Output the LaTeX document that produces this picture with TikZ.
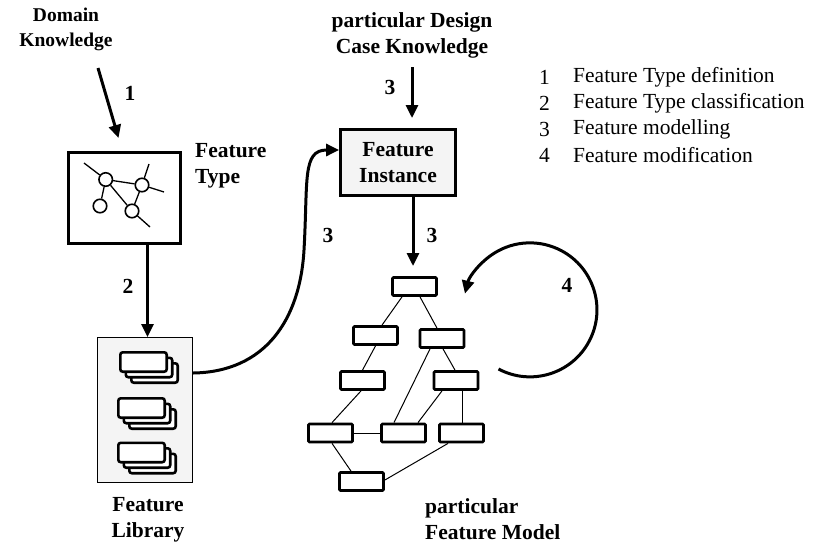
\documentclass[tikz,border=0pt]{standalone}
\usepackage{fontspec}
\setmainfont{Liberation Serif}
\usetikzlibrary{arrows.meta,calc}
\begin{document}
\begin{tikzpicture}[x=1pt,y=-1pt,
 lbl/.style={font=\fontsize{21.5}{26}\selectfont\bfseries, align=center, inner sep=0pt},
 num/.style={font=\fontsize{21.5}{26}\selectfont\bfseries, inner sep=0pt},
 leg/.style={font=\fontsize{21.5}{26}\selectfont, inner sep=0pt, anchor=west},
 arr/.style={line width=3pt, -{Triangle[length=13pt,width=12pt]}},
 mnode/.style={draw, line width=2.8pt, fill=white, minimum width=44pt, minimum height=18pt, inner sep=0pt, rounded corners=1pt},
 medge/.style={line width=1pt},
 stk/.style={draw, line width=2.6pt, fill=white, rounded corners=2.5pt, minimum width=46.4pt, minimum height=19.4pt, inner sep=0pt},
 circ/.style={draw, circle, line width=1.6pt, minimum size=13.5pt, inner sep=0pt},
 gline/.style={line width=1.3pt},
 bigbox/.style={draw, line width=2.8pt, inner sep=0pt}
]
\path[use as bounding box] (0,0) rectangle (813,544);

% ---------- texts ----------
\node[lbl, font=\fontsize{19.5}{25.5}\selectfont\bfseries] (dk) at (66,29.5) {Domain\\Knowledge};
\node[lbl] (cdk) at (412,35) {particular Design\\Case Knowledge};
\node[lbl, align=left, anchor=west] (ftl) at (195,165.5) {Feature\\Type};
\node[lbl] (fll) at (148,519.5) {Feature\\Library};
\node[lbl, align=left, anchor=west] (fml) at (425,519.5) {particular\\Feature Model};

% ---------- legend ----------
\node[leg] (n1) at (539,77) {1};
\node[leg] (t1) at (573,77) {Feature Type definition};
\node[leg] (n2) at (539,103) {2};
\node[leg] (t2) at (573,103) {Feature Type classification};
\node[leg] (n3) at (539,129) {3};
\node[leg] (t3) at (573,129) {Feature modelling};
\node[leg] (n4) at (539,155) {4};
\node[leg] (t4) at (573,155) {Feature modification};

% ---------- feature type box ----------
\node[bigbox, minimum width=112pt, minimum height=91pt] (ft) at (124.5,198) {};
\node[circ] (c1) at (105.7,179.5) {};
\node[circ] (c2) at (142,185) {};
\node[circ] (c3) at (100,206) {};
\node[circ] (c4) at (132,211) {};
\coordinate (g1) at (84,163);
\coordinate (g2) at (164,192);
\coordinate (g3) at (149,164);
\coordinate (g4) at (150,227);
\draw[gline] (g1) -- (c1);
\draw[gline] (c1) -- (c2);
\draw[gline] (c2) -- (g2);
\draw[gline] (c2) -- (g3);
\draw[gline] (c1) -- (c3);
\draw[gline] (c1) -- (c4);
\draw[gline] (c4) -- (c2);
\draw[gline] (c4) -- (g4);

% ---------- feature library ----------
\node[draw, line width=0.9pt, fill=gray!9, minimum width=95pt, minimum height=145pt, inner sep=0pt] (lib) at (145,410) {};
\foreach \i/\x/\y in {1/143.5/362, 2/141.5/408, 3/141.5/452.5}{
  \node[stk] (s\i c) at (\x+11,\y+11) {};
  \node[stk] (s\i b) at (\x+5.5,\y+5.5) {};
  \node[stk] (s\i a) at (\x,\y) {};
}

% ---------- feature instance ----------
\node[bigbox, fill=gray!9, minimum width=115pt, minimum height=66pt, lbl, draw, line width=2.8pt] (fi) at (398,162.5) {Feature\\Instance};

% ---------- feature model ----------
\node[mnode] (m1) at (414.5,286.5) {};
\node[mnode] (m2) at (375.5,335.5) {};
\node[mnode] (m3) at (442,338.5) {};
\node[mnode] (m4) at (362.5,380.5) {};
\node[mnode] (m5) at (456,380.5) {};
\node[mnode] (m6) at (330.5,433) {};
\node[mnode] (m7) at (403.5,433) {};
\node[mnode] (m8) at (461.5,433) {};
\node[mnode] (m9) at (361.5,481.5) {};
\draw[medge] ([xshift=-12.5pt]m1.south) -- ([xshift=6.5pt]m2.north);
\draw[medge] ([xshift=5.5pt]m1.south) -- ([xshift=-5pt]m3.north);
\draw[medge] (m2.south) -- (m4.north);
\draw[medge] ([xshift=-12pt]m3.south) -- ([xshift=-9.5pt]m7.north);
\draw[medge] ([xshift=1pt]m3.south) -- ([xshift=-1pt]m5.north);
\draw[medge] ([xshift=-1.5pt]m4.south) -- ([xshift=1.5pt]m6.north);
\draw[medge] ([xshift=-14pt]m5.south) -- ([xshift=14.5pt]m7.north);
\draw[medge] ([xshift=6pt]m5.south) -- ([xshift=0.5pt]m8.north);
\draw[medge] (m6.east) -- (m7.west);
\draw[medge] ([xshift=1.5pt]m6.south) -- ([xshift=-10.5pt]m9.north);
\draw[medge] ([xshift=-13.5pt]m8.south) -- ([yshift=1.5pt]m9.east);

% ---------- arrows ----------
\coordinate (a1s) at (98,68);
\coordinate (a1e) at (118.5,138);
\draw[arr] (a1s) -- (a1e);
\node[num] (l1) at (130,93) {1};

\draw[arr] (ft.south -| 147.5,0) -- (lib.north -| 147.5,0);
\node[num] (l2) at (128,286) {2};

\coordinate (a3s) at (412,67);
\coordinate (a3e) at (412,118);
\draw[arr] (a3s) -- (a3e);
\node[num] (l3a) at (390,87) {3};

\coordinate (a4e) at (413,266);
\draw[arr] (fi.south -| a4e) -- (a4e);
\node[num] (l3c) at (432,235) {3};

\draw[arr] ([yshift=37pt]lib.east) .. controls (265,372) and (300,320) .. (304,250)
  .. controls (308,180) and (302,150) .. ([yshift=12.5pt]fi.west);
\node[num] (l3b) at (328,235) {3};

\coordinate (lp) at (498.5,369);
\draw[arr] (lp) arc[start angle=242, end angle=526, radius=67pt];
\node[num] (l4) at (567,285) {4};
\end{tikzpicture}
\end{document}
